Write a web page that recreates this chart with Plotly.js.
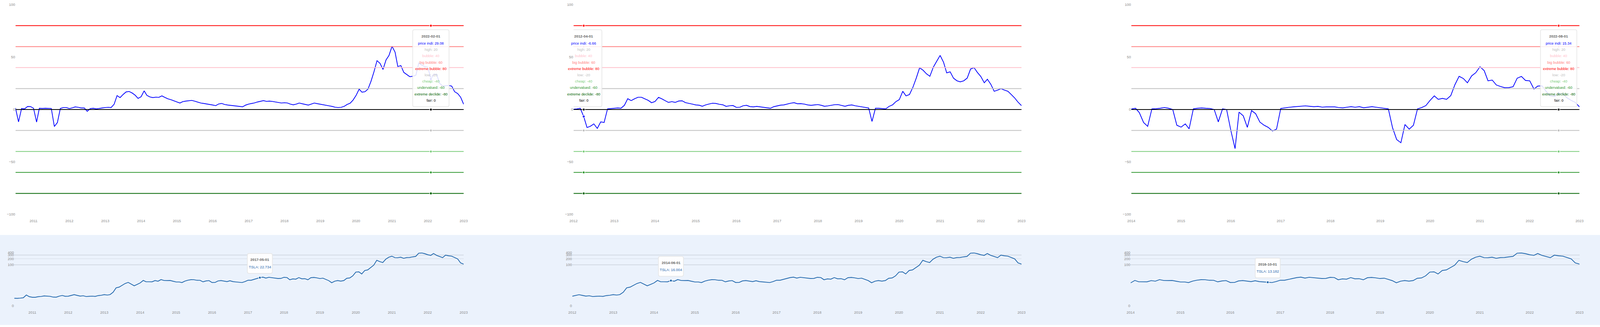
<!DOCTYPE html>
<html>
<head>
<meta charset="utf-8">
<script src="https://cdn.plot.ly/plotly-3.0.1.min.js"></script>
<style>
html,body{margin:0;padding:0;background:#ffffff;overflow:hidden;}
#chart{position:absolute;left:0;top:0;}
</style>
</head>
<body>
<div id="chart"></div>
<script>
// ---------------- DATA ----------------
const seriesFirstMonth = '2010-07';
const seriesLastMonth = '2023-01';

// TSLA monthly close (split adjusted), 2010-07 .. 2023-01
const tslaClose = [
  1.329, 1.299, 1.361, 1.456, 2.355, 1.775,
  1.607, 1.593, 1.777, 1.850, 2.023, 1.942, 1.884, 1.648, 1.626, 1.957, 2.181, 1.904,
  1.938, 2.209, 2.483, 2.209, 1.967, 2.086, 1.818, 1.901, 1.952, 1.875, 2.142, 2.258,
  2.501, 2.327, 2.526, 3.597, 6.517, 7.162, 8.952, 11.267, 12.891, 10.663, 8.485, 10.029,
  12.094, 16.321, 13.897, 13.859, 13.851, 16.004, 14.887, 17.980, 16.179, 16.113, 16.301, 14.827,
  13.573, 13.556, 12.585, 15.070, 16.720, 17.884, 17.743, 16.604, 16.560, 13.795, 15.351, 16.001,
  12.747, 12.795, 15.318, 16.051, 14.882, 14.152, 15.653, 14.134, 13.602, 13.182, 12.627, 14.246,
  16.795, 16.666, 18.553, 20.938, 22.734, 24.107, 21.565, 23.727, 22.740, 22.102, 20.590, 20.757,
  23.621, 22.871, 17.742, 19.593, 18.982, 22.863, 19.876, 20.111, 17.651, 22.488, 23.365, 22.187,
  20.468, 21.325, 18.657, 15.913, 12.344, 14.897, 16.107, 15.041, 16.058, 20.995, 21.996, 27.889,
  43.371, 44.533, 34.933, 52.125, 55.667, 71.987, 95.384, 166.107, 143.003, 129.347, 189.200, 235.223,
  264.510, 225.167, 222.643, 236.480, 208.407, 226.567, 229.067, 245.240, 258.493, 371.333, 381.587, 352.260,
  312.240, 290.143, 359.200, 290.253, 252.753, 224.473, 297.150, 275.610, 265.250, 227.540, 194.700, 123.180,
  108.100
];

// price indicator, panel 1 (2010-07 .. 2023-01)
const indiPanel1 = [
  1.5, -11.8, 1.0, 0.6, 2.9, 2.8,
  1.2, -12.0, 1.2, 1.0, 1.2, 1.2, 1.0, -16.2, -12.4, 1.0, 1.9, 1.9,
  0.9, 1.6, 2.5, 2.1, 1.5, 1.5, -1.7, 0.9, 1.2, 0.6, 1.2, 1.5,
  1.9, 2.1, 1.9, 5.0, 13.3, 11.4, 14.3, 16.8, 17.2, 15.8, 13.7, 10.6,
  12.2, 17.8, 13.5, 12.0, 11.4, 11.8, 11.6, 13.0, 11.5, 10.2, 9.4, 8.2,
  7.2, 6.2, 7.5, 8.0, 8.3, 8.7, 8.0, 7.0, 6.2, 5.8, 5.3, 5.0,
  4.3, 3.7, 5.3, 5.8, 4.8, 4.3, 4.0, 3.6, 3.2, 2.9, 2.6, 4.2,
  5.2, 5.8, 6.3, 7.2, 7.8, 8.5, 7.8, 8.0, 7.7, 7.2, 6.6, 6.2,
  6.5, 6.2, 5.2, 4.5, 5.2, 6.2, 5.5, 4.8, 4.2, 5.2, 6.2, 5.6,
  5.0, 4.5, 4.0, 3.5, 3.0, 2.2, 1.9, 2.1, 3.0, 4.8, 6.0, 9.0,
  13.5, 19.5, 16.5, 17.0, 19.5, 27.0, 36.0, 46.6, 44.0, 38.2, 47.3, 51.6,
  60.3, 54.7, 41.0, 41.9, 35.4, 33.2, 31.3, 31.7, 32.7, 44.4, 42.3, 41.0,
  40.4, 29.08, 33.6, 33.6, 24.9, 22.4, 22.6, 23.0, 22.4, 17.0, 15.2, 11.8,
  5.0
];

// price indicator, panel 2 (2012-01 .. 2023-01)
const indiPanel2 = [
  0.3, 0.6, 1.2, -6.66, -17.2, -15.9, -13.7, -18.0, -11.8, -12.4, 0.6, 0.9,
  1.2, 1.5, 1.2, 4.0, 10.3, 8.5, 10.2, 11.7, 11.7, 10.3, 8.7, 6.5,
  7.7, 11.6, 10.3, 8.5, 6.8, 7.5, 6.8, 8.1, 8.3, 6.6, 6.0, 5.2,
  4.4, 4.1, 3.1, 4.4, 5.3, 6.0, 5.8, 5.0, 4.5, 3.0, 3.6, 3.8,
  2.0, 2.2, 3.6, 4.0, 2.8, 2.5, 3.0, 2.5, 2.0, 1.5, 1.2, 2.7,
  3.5, 4.2, 4.4, 5.2, 6.0, 6.5, 5.5, 5.6, 5.2, 4.4, 4.0, 4.4,
  4.7, 4.0, 3.1, 3.5, 4.0, 4.6, 4.7, 3.8, 3.1, 4.0, 4.4, 3.6,
  3.1, 2.6, 2.2, 1.5, -11.4, 1.2, 1.2, 0.9, 0.6, 3.0, 4.4, 7.5,
  9.5, 17.4, 13.0, 14.3, 21.0, 30.0, 39.8, 37.5, 34.0, 31.7, 40.4, 46.0,
  51.6, 45.0, 35.0, 36.0, 29.9, 27.4, 26.4, 27.4, 30.0, 38.6, 40.0, 35.4,
  31.5, 25.5, 28.9, 24.0, 17.4, 18.5, 19.9, 18.5, 17.4, 14.3, 11.0, 7.0,
  3.7
];

// price indicator, panel 3 (2014-01 .. 2023-01)
const indiPanel3 = [
  0.5, 1.2, -3.0, -12.4, -16.0, 0.6, 0.8, 1.2, 1.9, 1.2, 0.0, -15.0,
  -16.8, -13.7, -18.4, 0.6, 1.2, 1.5, 1.2, 1.0, 0.0, -11.8, 0.6, 0.0,
  -20.0, -37.3, -2.5, -6.0, -17.0, -1.0, -4.0, -12.0, -15.0, -17.0, -20.5, -18.7,
  1.0, 1.7, 2.1, 2.5, 2.9, 3.3, 3.5, 3.1, 2.7, 3.0, 2.3, 2.5,
  2.5, 2.5, 1.9, 1.6, 2.2, 2.7, 2.2, 2.7, 1.7, 2.2, 2.7, 2.2,
  1.7, 1.2, 0.6, -17.4, -28.6, -31.7, -14.3, -18.7, -15.0, 0.6, 1.9, 3.7,
  8.7, 13.0, 9.7, 10.6, 9.7, 13.3, 23.6, 31.7, 29.6, 25.5, 32.1, 35.1,
  40.8, 37.1, 27.4, 28.1, 23.4, 22.0, 20.8, 20.9, 21.8, 29.9, 31.6, 27.7,
  27.4, 19.5, 22.4, 22.6, 17.4, 13.0, 12.4, 15.34, 14.9, 11.2, 8.7, 6.8,
  2.5
];

const panelStartMonths = ['2012-01', '2014-01'];
const indiHoverDates = ['2022-02-01', '2012-04-01', '2022-08-01'];
const tslaHoverDates = ['2017-05-01', '2014-06-01', '2016-10-01'];

const indiName = 'price indi';
const tslaName = 'TSLA';
const levelNames = ['high', 'bubble', 'big bubble', 'extreme bubble', 'low', 'cheap', 'undervalued', 'extreme declide', 'fair'];
const levelValues = [20, 40, 60, 80, -20, -40, -60, -80, 0];

const yTickValsTop = [-100, -50, 0, 50, 100];
const yTickValsBottom = [0, 100, 200, 300, 400];

// ---------------- STYLE ----------------
const indiColor = '#0000ff';
const tslaColor = '#1f66ac';
const levelColors = ['#c0c0c0', '#ffc0cb', '#ff8080', '#ff0000', '#c0c0c0', '#7ccd7c', '#339933', '#006400', '#000000'];
const axisTextColor = '#8c8c8c';
const tipTitleColor = '#666666';
const fontFamily = '"Liberation Sans", Arial, sans-serif';

// design size of the reference; everything is scaled to the real viewport
const REF_W = 5504, REF_H = 836;
const W = window.innerWidth || document.documentElement.clientWidth || REF_W;
const H = window.innerHeight || document.documentElement.clientHeight || REF_H;
const sx = W / REF_W, sy = H / REF_H, sm = Math.sqrt(sx * sy);
const fs = Math.min(12 * sx * 1.05, 12 * sy);   // font size
const chartDiv = document.getElementById('chart');
chartDiv.style.width = W + 'px';
chartDiv.style.height = H + 'px';

function monthList(start, end) {
  const out = [];
  let y = +start.slice(0, 4), m = +start.slice(5, 7);
  const ey = +end.slice(0, 4), em = +end.slice(5, 7);
  while (y < ey || (y === ey && m <= em)) {
    out.push(y + '-' + String(m).padStart(2, '0') + '-01');
    m++; if (m > 12) { m = 1; y++; }
  }
  return out;
}

function roundedRect(x0, x1, y0, y1, r) {
  return 'M' + (x0 + r) + ',' + y0 + ' L' + (x1 - r) + ',' + y0 + ' Q' + x1 + ',' + y0 + ' ' + x1 + ',' + (y0 + r) +
    ' L' + x1 + ',' + (y1 - r) + ' Q' + x1 + ',' + y1 + ' ' + (x1 - r) + ',' + y1 +
    ' L' + (x0 + r) + ',' + y1 + ' Q' + x0 + ',' + y1 + ' ' + x0 + ',' + (y1 - r) +
    ' L' + x0 + ',' + (y0 + r) + ' Q' + x0 + ',' + y0 + ' ' + (x0 + r) + ',' + y0 + ' Z';
}

const allDates = monthList(seriesFirstMonth, seriesLastMonth);
const panelDates = [
  allDates,
  monthList(panelStartMonths[0], seriesLastMonth),
  monthList(panelStartMonths[1], seriesLastMonth)
];
const panelIndi = [indiPanel1, indiPanel2, indiPanel3];

// reference pixel layout -> paper fractions
const topY = [1 - 548 / REF_H, 1 - 12 / REF_H];
const botY = [1 - 781.7 / REF_H, 1 - 645.6 / REF_H];
const topX = [[53.3, 1595], [1973, 3514], [3891.7, 5433.5]];
const botX = [[49, 1595], [1968.8, 3514], [3889.3, 5433.5]];
const tipTop = 76, tipBottom = 272.7, tipHalfW = 62.5;
const tipTitleY = 93.3, tipFirstY = 111, tipStep = 16.2;
const botRange = [-0.0005, Math.log10(yTickValsBottom[yTickValsBottom.length - 1] + 1) + 0.0005];

const traces = [];
const annotations = [];
const shapes = [{
  type: 'rect', xref: 'paper', yref: 'paper', layer: 'below',
  x0: 0, x1: 1, y0: 1 - 830.7 / REF_H, y1: 1 - 600.7 / REF_H,
  fillcolor: '#ebf2fc', line: {width: 0}
}];
const layout = {
  width: W, height: H,
  margin: {l: 0, r: 0, t: 0, b: 0, pad: 0},
  paper_bgcolor: '#ffffff',
  plot_bgcolor: 'rgba(0,0,0,0)',
  showlegend: false,
  font: {family: fontFamily, size: fs, color: axisTextColor},
  shapes: shapes,
  annotations: annotations
};

function axisName(n, letter) { return n === 1 ? letter : letter + n; }

const tickFont = {family: fontFamily, size: fs, color: axisTextColor};

for (let p = 0; p < 3; p++) {
  const dates = panelDates[p];
  const indi = panelIndi[p];
  const tIdx = p + 1;
  const bIdx = p + 4;
  const xt = axisName(tIdx, 'x'), yt = axisName(tIdx, 'y');
  const xb = axisName(bIdx, 'x'), yb = axisName(bIdx, 'y');
  const startDate = dates[0], endDate = dates[dates.length - 1];

  // ---- top panel ----
  traces.push({
    type: 'scatter', mode: 'lines', x: dates, y: indi, name: indiName,
    xaxis: xt, yaxis: yt, line: {color: indiColor, width: 2.2 * sm}, hoverinfo: 'skip'
  });
  levelNames.forEach((nm, i) => {
    traces.push({
      type: 'scatter', mode: 'lines', x: [startDate, endDate], y: [levelValues[i], levelValues[i]],
      name: nm, xaxis: xt, yaxis: yt, line: {color: levelColors[i], width: 2 * sy}, hoverinfo: 'skip'
    });
  });
  const hIdx = dates.indexOf(indiHoverDates[p]);
  const hoverVal = indi[hIdx];
  traces.push({
    type: 'scatter', mode: 'markers',
    x: Array(levelValues.length + 1).fill(dates[hIdx]),
    y: [hoverVal].concat(levelValues),
    xaxis: xt, yaxis: yt, hoverinfo: 'skip',
    marker: {size: 7.5 * sm, color: [indiColor].concat(levelColors), line: {color: '#ffffff', width: 1.6 * sm}}
  });

  // tooltip box (rounded, semi transparent)
  shapes.push({
    type: 'path', layer: 'above', xref: xt, yref: 'paper',
    xsizemode: 'pixel', ysizemode: 'pixel', xanchor: dates[hIdx], yanchor: 1 - (tipTop + tipBottom) / 2 / REF_H,
    path: roundedRect(-tipHalfW * sx, tipHalfW * sx, -(tipBottom - tipTop) / 2 * sy, (tipBottom - tipTop) / 2 * sy, 5 * sm),
    fillcolor: 'rgba(255,255,255,0.86)', line: {color: '#e6e6e6', width: 2 * sm}
  });
  const tipLines = [{t: '<b>' + dates[hIdx] + '</b>', c: tipTitleColor}, {t: indiName + ': ' + hoverVal, c: indiColor}]
    .concat(levelNames.map((nm, i) => ({t: nm + ': ' + levelValues[i], c: levelColors[i]})));
  tipLines.forEach((ln, i) => {
    const yPx = i === 0 ? tipTitleY : tipFirstY + (i - 1) * tipStep;
    annotations.push({
      xref: xt, yref: 'paper', x: dates[hIdx], y: 1 - yPx / REF_H,
      xanchor: 'center', yanchor: 'middle', showarrow: false,
      text: ln.t, font: {family: fontFamily, size: fs, color: ln.c}
    });
  });

  layout[axisName(tIdx, 'xaxis')] = {
    type: 'date', domain: [topX[p][0] / REF_W, topX[p][1] / REF_W], anchor: yt,
    range: [startDate, endDate], tick0: '2011-01-01', dtick: 'M12', tickformat: '%Y',
    showgrid: false, zeroline: false, showline: false, ticks: '', tickfont: tickFont,
    ticklabelstandoff: 10 * sy, fixedrange: true
  };
  layout[axisName(tIdx, 'yaxis')] = {
    domain: topY, anchor: xt, range: [-100, 100], tickmode: 'array', tickvals: yTickValsTop,
    showgrid: false, zeroline: false, showline: false, ticks: '', tickfont: tickFont,
    ticklabelstandoff: 11 * sx, fixedrange: true
  };

  // ---- bottom panel (log(1+v) price scale) ----
  const offset = allDates.indexOf(startDate);
  const tsla = tslaClose.slice(offset);
  traces.push({
    type: 'scatter', mode: 'lines', x: dates, y: tsla.map(v => v + 1), name: tslaName,
    xaxis: xb, yaxis: yb, line: {color: tslaColor, width: 2.2 * sm}, hoverinfo: 'skip'
  });
  const bIdxDate = dates.indexOf(tslaHoverDates[p]);
  const bVal = tsla[bIdxDate];
  const bLog = Math.log10(bVal + 1);
  const bPaperY = botY[0] + (bLog - botRange[0]) / (botRange[1] - botRange[0]) * (botY[1] - botY[0]);
  traces.push({
    type: 'scatter', mode: 'markers', x: [dates[bIdxDate]], y: [bVal + 1],
    xaxis: xb, yaxis: yb, hoverinfo: 'skip',
    marker: {size: 7.5 * sm, color: tslaColor, line: {color: '#ffffff', width: 1.6 * sm}}
  });
  shapes.push({
    type: 'path', layer: 'above', xref: xb, yref: 'paper',
    xsizemode: 'pixel', ysizemode: 'pixel', xanchor: dates[bIdxDate], yanchor: bPaperY,
    path: roundedRect(-43 * sx, 43 * sx, 11 * sy, 61.7 * sy, 5 * sm),
    fillcolor: 'rgba(255,255,255,0.92)', line: {color: '#e6e6e6', width: 2 * sm}
  });
  annotations.push({
    xref: xb, yref: 'paper', x: dates[bIdxDate], y: bPaperY, yshift: 45.5 * sy,
    xanchor: 'center', yanchor: 'middle', showarrow: false,
    text: '<b>' + dates[bIdxDate] + '</b>', font: {family: fontFamily, size: fs, color: tipTitleColor}
  });
  annotations.push({
    xref: xb, yref: 'paper', x: dates[bIdxDate], y: bPaperY, yshift: 27.1 * sy,
    xanchor: 'center', yanchor: 'middle', showarrow: false,
    text: tslaName + ': ' + bVal, font: {family: fontFamily, size: fs, color: tslaColor}
  });

  layout[axisName(bIdx, 'xaxis')] = {
    type: 'date', domain: [botX[p][0] / REF_W, botX[p][1] / REF_W], anchor: yb,
    range: [startDate, endDate], tick0: '2011-01-01', dtick: 'M12', tickformat: '%Y',
    showgrid: false, zeroline: false, showline: false, ticks: '', tickfont: tickFont,
    ticklabelstandoff: 10 * sy, fixedrange: true
  };
  layout[axisName(bIdx, 'yaxis')] = {
    type: 'log', domain: botY, anchor: xb, range: botRange,
    tickmode: 'array', tickvals: yTickValsBottom.map(v => v + 1), ticktext: yTickValsBottom.map(String),
    showgrid: true, gridcolor: '#d3dae4', gridwidth: 1.3 * sy, zeroline: false, showline: false,
    ticks: '', tickfont: tickFont, ticklabelstandoff: 11 * sx, fixedrange: true
  };
}

Plotly.newPlot(chartDiv, traces, layout, {staticPlot: true, displayModeBar: false});
</script>
</body>
</html>
